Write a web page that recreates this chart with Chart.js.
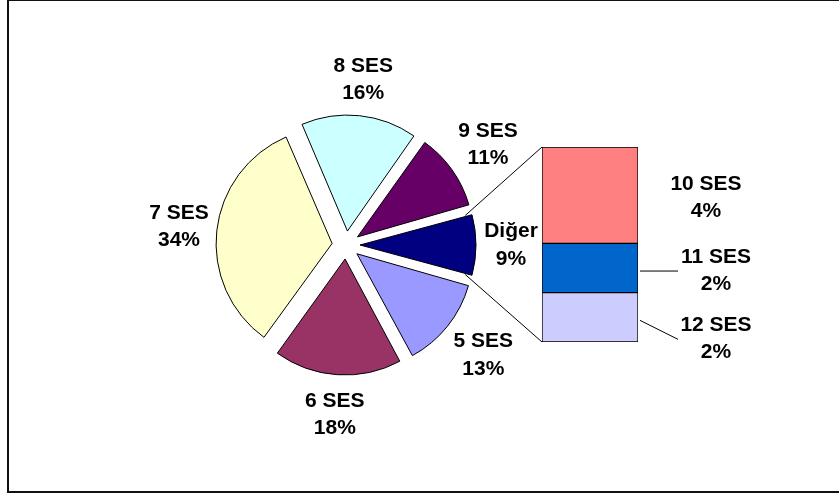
<!DOCTYPE html>
<html lang="tr">
<head>
<meta charset="UTF-8">
<title>SES dağılımı</title>
<script src="https://cdn.jsdelivr.net/npm/chart.js"></script>
<style>
  body { margin: 0; background: #fff; }
  .wrap { position: relative; width: 839px; height: 495px; overflow: hidden; }
  .wrap canvas { position: absolute; left: 0; top: 0; }
  .frame { position: absolute; left: 7px; top: -1px; width: 840px; height: 490px; border: 2px solid #111; }
</style>
</head>
<body>
<div class="wrap">
  <div class="frame"></div>
  <canvas id="pie" width="839" height="495"></canvas>
  <canvas id="bar" width="839" height="495"></canvas>
</div>
<script>
// pie slices, clockwise from the right edge of "Diğer"
const pieLabels = ['5 SES', '6 SES', '7 SES', '8 SES', '9 SES', 'Diğer'];
const pieValues = [12.8, 17.8, 33.6, 16.2, 10.9, 8.7];
const pieColors = ['#9999FF', '#993366', '#FFFFCC', '#CCFFFF', '#660066', '#000080'];

// the "Diğer" slice split into the bar
const otherLabels = ['10 SES', '11 SES', '12 SES'];
const otherValues = [4.3, 2.2, 2.2];
const otherColors = ['#FF8080', '#0066CC', '#CCCCFF'];

const LABEL_FONT = 'bold 21px "Liberation Sans", Arial, sans-serif';
const pieTotal = pieValues.reduce((a, b) => a + b, 0);
const otherTotal = otherValues.reduce((a, b) => a + b, 0);
const pct = (v, t) => Math.round(v / t * 100) + '%';

// label distance from the pie centre, per slice
const pieLabelDist = [176, 170, 168, 166, 174, 165];

// where each bar label sits relative to its segment
const otherLabelPos = [
    { dx: 68, dy: 2.5, leader: false },
    { dx: 78, dy: 2.5, leader: true },
    { dx: 78, dy: 21.5, leader: true }
];

function twoLines(ctx, a, b, x, y) {
    ctx.fillText(a, x, y - 13.75);
    ctx.fillText(b, x, y + 13.75);
}

// chart.js grows small exploded slices, keep them at one radius
const explodePlugin = {
    id: 'explode',
    beforeDatasetsDraw(chart) {
        const meta = chart.getDatasetMeta(0);
        const R = meta.controller.outerRadius;
        meta.data.forEach(arc => {
            const t = (arc.options.offset || 0) / 4;
            const fix = 1 - Math.sin(Math.min(Math.PI, arc.circumference));
            arc.outerRadius = R - t * fix;
        });
    }
};

const pieLabelPlugin = {
    id: 'pieLabels',
    afterDatasetsDraw(chart) {
        const ctx = chart.ctx;
        const meta = chart.getDatasetMeta(0);
        ctx.save();
        ctx.font = LABEL_FONT;
        ctx.fillStyle = '#000';
        ctx.textAlign = 'center';
        ctx.textBaseline = 'middle';
        meta.data.forEach((arc, i) => {
            const mid = (arc.startAngle + arc.endAngle) / 2;
            const r = pieLabelDist[i];
            twoLines(ctx, pieLabels[i], pct(pieValues[i], pieTotal),
                arc.x + Math.cos(mid) * r, arc.y + Math.sin(mid) * r);
        });
        ctx.restore();
    }
};

const pieChart = new Chart(document.getElementById('pie'), {
    type: 'pie',
    data: {
        labels: pieLabels,
        datasets: [{
            data: pieValues,
            backgroundColor: pieColors,
            borderColor: '#000',
            borderWidth: 1,
            offset: 56
        }]
    },
    options: {
        responsive: false,
        animation: false,
        events: [],
        radius: 116,
        rotation: 90 + (pieValues[pieValues.length - 1] / pieTotal * 360) / 2,
        layout: { padding: { left: 0, right: 147, top: 0, bottom: 5 } },
        plugins: {
            legend: { display: false },
            tooltip: { enabled: false }
        }
    },
    plugins: [explodePlugin, pieLabelPlugin]
});

const barPlugin = {
    id: 'barLabels',
    afterDatasetsDraw(chart) {
        const ctx = chart.ctx;
        ctx.save();

        // lines from the "Diğer" slice to the bar
        const pm = pieChart.getDatasetMeta(0);
        const arc = pm.data[pm.data.length - 1];
        const mid = (arc.startAngle + arc.endAngle) / 2;
        const t = (arc.options.offset || 0) / 4;
        const cx = arc.x + Math.cos(mid) * t;
        const cy = arc.y + Math.sin(mid) * t;
        const R = arc.outerRadius;
        const top = chart.getDatasetMeta(chart.data.datasets.length - 1).data[0];
        const bottom = chart.getDatasetMeta(0).data[0];
        const left = top.x - top.width / 2;
        ctx.strokeStyle = '#000';
        ctx.lineWidth = 1;
        ctx.beginPath();
        ctx.moveTo(cx + Math.cos(arc.startAngle) * R, cy + Math.sin(arc.startAngle) * R);
        ctx.lineTo(left, top.y);
        ctx.moveTo(cx + Math.cos(arc.endAngle) * R, cy + Math.sin(arc.endAngle) * R);
        ctx.lineTo(left, bottom.base);
        ctx.stroke();

        ctx.font = LABEL_FONT;
        ctx.fillStyle = '#000';
        ctx.textAlign = 'center';
        ctx.textBaseline = 'middle';
        chart.data.datasets.forEach((ds, d) => {
            const bar = chart.getDatasetMeta(d).data[0];
            const i = ds.idx;
            const pos = otherLabelPos[i];
            const right = bar.x + bar.width / 2;
            const segMid = (bar.y + bar.base) / 2;
            const lx = right + pos.dx;
            const ly = segMid + pos.dy;
            if (pos.leader) {
                ctx.beginPath();
                ctx.moveTo(right + 2, segMid + 3);
                ctx.lineTo(right + 40, ly + 0.5);
                ctx.stroke();
            }
            twoLines(ctx, otherLabels[i], pct(otherValues[i], pieTotal), lx, ly);
        });
        ctx.restore();
    }
};

const barChart = new Chart(document.getElementById('bar'), {
    type: 'bar',
    data: {
        labels: ['Diğer'],
        datasets: otherLabels.map((l, i) => ({
            label: l,
            idx: i,
            data: [otherValues[i]],
            backgroundColor: otherColors[i],
            borderColor: '#000',
            borderWidth: 1,
            borderSkipped: false,
            barPercentage: 1,
            categoryPercentage: 1
        })).reverse()
    },
    options: {
        responsive: false,
        animation: false,
        events: [],
        layout: { padding: { left: 542, right: 201, top: 147, bottom: 153 } },
        scales: {
            x: { stacked: true, display: false },
            y: { stacked: true, display: false, min: 0, max: otherTotal }
        },
        plugins: {
            legend: { display: false },
            tooltip: { enabled: false }
        }
    },
    plugins: [barPlugin]
});
</script>
</body>
</html>
